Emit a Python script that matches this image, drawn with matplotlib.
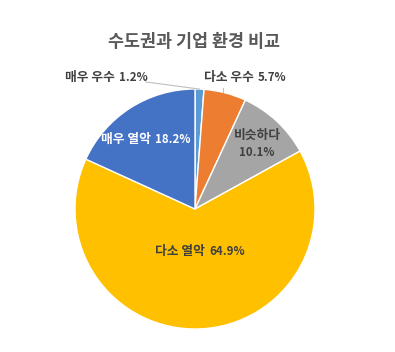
import numpy as np
import matplotlib
matplotlib.use("Agg")
import matplotlib.pyplot as plt

plt.rcParams['font.family'] = ['Noto Sans CJK KR', 'DejaVu Sans']

title = "수도권과 기업 환경 비교"
categories = ["매우 우수", "다소 우수", "비슷하다", "다소 열악", "매우 열악"]
values = [1.2, 5.7, 10.1, 64.9, 18.2]
colors = ["#5B9BD5", "#ED7D31", "#A5A5A5", "#FFC000", "#4472C4"]

W, H, DPI = 395, 352, 100
fig = plt.figure(figsize=(W / DPI, H / DPI), dpi=DPI)
cx, cy, R = 195, 209, 120
ax = fig.add_axes([(cx - R) / W, (H - cy - R) / H, 2 * R / W, 2 * R / H])
wedges, _ = ax.pie(values, colors=colors, startangle=90, counterclock=False,
                   radius=1.0, wedgeprops=dict(edgecolor="white", linewidth=1.0))
ax.set_xlim(-1, 1)
ax.set_ylim(-1, 1)
ax.set_aspect("equal")
ax.axis("off")

fig.text(194 / W, 1 - 42 / H, title, ha="center", va="center",
         fontsize=12.5, fontweight="bold", color="#595959")

renderer = fig.canvas.get_renderer()


def two_part(x, y, name, pct, color, two_lines=False):
    """Draw 'name pct' with the percentage in a smaller font, centred on (x, y)."""
    common = dict(fontweight="bold", color=color, va="baseline", ha="left",
                  textcoords="offset pixels", annotation_clip=False)
    t1 = ax.annotate(name, (x, y), xytext=(0, 0), fontsize=9.2, **common)
    t2 = ax.annotate(pct, (x, y), xytext=(0, 0), fontsize=8.3, **common)
    w1 = t1.get_window_extent(renderer).width
    w2 = t2.get_window_extent(renderer).width
    if two_lines:
        t1.set_position((-w1 / 2, 3))
        t2.set_position((-w2 / 2, -14))
    else:
        gap = 4
        tot = w1 + gap + w2
        t1.set_position((-tot / 2, -4))
        t2.set_position((-tot / 2 + w1 + gap, -4))


def mid_angle(i):
    start = 90 - 360 * sum(values[:i]) / 100
    return np.deg2rad(start - 360 * values[i] / 200)


def at(i, r):
    a = mid_angle(i)
    return r * np.cos(a), r * np.sin(a)


dark = "#404040"
# outside labels with leader lines
x0, y0 = at(0, 1.0)
lx, ly = (146 - cx) / R, (cy - 82) / R
ax.plot([lx, x0], [ly, y0], color="#BFBFBF", lw=0.8, clip_on=False)
two_part((106 - cx) / R, (cy - 77) / R, categories[0], f"{values[0]}%", dark)

x1, y1 = at(1, 1.0)
ax.plot([x1 - 0.02, x1 - 0.02], [y1 + 0.01, y1 + 0.04], color="#BFBFBF", lw=0.8, clip_on=False)
two_part((245 - cx) / R, (cy - 77) / R, categories[1], f"{values[1]}%", dark)

# inside labels
x2, y2 = at(2, 0.76)
two_part(x2, y2, categories[2], f"{values[2]}%", dark, two_lines=True)

two_part(0.04, -0.35, categories[3], f"{values[3]}%", dark)

x4, y4 = at(4, 0.66)
two_part(x4 - 0.06, y4 + 0.03, categories[4], f"{values[4]}%", "white")

fig.savefig("out.png", dpi=DPI)
